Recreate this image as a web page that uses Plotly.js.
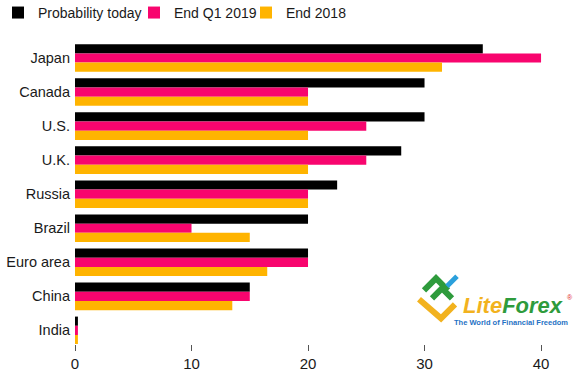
<!DOCTYPE html>
<html>
<head>
<meta charset="utf-8">
<script src="https://cdn.plot.ly/plotly-3.0.1.min.js"></script>
<style>html,body{margin:0;padding:0;background:#fff;}#chart{width:588px;height:383px;}</style>
</head>
<body>
<div id="chart"></div>
<script>
var countries = ["Japan", "Canada", "U.S.", "U.K.", "Russia", "Brazil", "Euro area", "China", "India"];
var probabilityToday = [35, 30, 30, 28, 22.5, 20, 20, 15, 0.25];
var endQ1_2019 = [40, 20, 25, 25, 20, 10, 20, 15, 0.25];
var end2018 = [31.5, 20, 20, 20, 20, 15, 16.5, 13.5, 0.25];
var seriesNames = ["Probability today", "End Q1 2019", "End 2018"];
var xTicks = [0, 10, 20, 30, 40];

var W = 588, H = 383, ML = 75, MR = 12, MT = 41, MB = 39.4;
function px(x) { return (x - ML) / (W - ML - MR); }
function py(y) { return (H - MB - y) / (H - MB - MT); }

var colors = ["#000000", "#f8056e", "#ffb400"];
var series = [probabilityToday, endQ1_2019, end2018];
var legendIds = ["legend", "legend2", "legend3"];
var data = series.map(function (vals, i) {
  return {
    type: "bar", orientation: "h", name: seriesNames[i], legend: legendIds[i],
    x: vals, y: countries, marker: {color: colors[i], line: {width: 0}},
    hoverinfo: "none"
  };
});

function pathStr(pts) {
  return pts.map(function (p, i) { return (i ? "L" : "M") + px(p[0]) + "," + py(p[1]); }).join(" ");
}
var shapes = [
  {type: "path", xref: "paper", yref: "paper", path: pathStr([[419,299],[441,318],[455,304]]), line: {color: "#f2b21e", width: 6}},
  {type: "path", xref: "paper", yref: "paper", path: pathStr([[424,290],[436,278],[448,290]]), line: {color: "#2e9b3c", width: 6}},
  {type: "path", xref: "paper", yref: "paper", path: pathStr([[432,298],[442,288],[452,298]]), line: {color: "#2e9b3c", width: 6}},
  {type: "path", xref: "paper", yref: "paper", path: pathStr([[447,286],[457,276]]), line: {color: "#2ba0dc", width: 5}}
];

var annotations = [
  {xref: "paper", yref: "paper", x: px(461), y: py(305), xanchor: "left", yanchor: "middle", showarrow: false,
   text: "<b><i><span style='color:#f2b21e'>Lite</span><span style='color:#2e9b3c'>Forex</span></i></b>",
   font: {family: "Liberation Sans, Arial, sans-serif", size: 22}},
  {xref: "paper", yref: "paper", x: px(565), y: py(297), xanchor: "left", yanchor: "middle", showarrow: false,
   text: "®", font: {family: "Liberation Sans, Arial, sans-serif", size: 7, color: "#e0262b"}},
  {xref: "paper", yref: "paper", x: px(452), y: py(322), xanchor: "left", yanchor: "middle", showarrow: false,
   text: "<b>The World of Financial Freedom</b>",
   font: {family: "Liberation Sans, Arial, sans-serif", size: 7.5, color: "#1f72c4"}}
];

function legendAt(leftPx) {
  return {orientation: "h", xref: "paper", yref: "paper", x: px(leftPx), y: py(-3), xanchor: "left", yanchor: "top",
          font: {family: "Liberation Sans, Arial, sans-serif", size: 14, color: "#1a1a1a"},
          itemwidth: 30, bgcolor: "rgba(0,0,0,0)", borderwidth: 0};
}

var layout = {
  width: W, height: H,
  margin: {l: ML, r: MR, t: MT, b: MB, pad: 0, autoexpand: false},
  paper_bgcolor: "#ffffff", plot_bgcolor: "#ffffff",
  barmode: "group", bargap: 0.19, bargroupgap: 0,
  font: {family: "Liberation Sans, Arial, sans-serif", size: 14, color: "#1a1a1a"},
  showlegend: true,
  legend: legendAt(-2),
  legend2: legendAt(134),
  legend3: legendAt(246),
  xaxis: {range: [0, 43], tickvals: xTicks, ticktext: xTicks.map(String), showgrid: false, zeroline: false,
          showline: false, ticks: "outside", ticklen: 6, tickwidth: 1, tickcolor: "#555555",
          tickfont: {size: 15, color: "#1a1a1a"}, fixedrange: true, automargin: false},
  yaxis: {type: "category", range: [8.4, -0.5], showgrid: false, zeroline: false, showline: false,
          ticks: "", tickfont: {size: 14.5, color: "#1a1a1a"}, ticklabelstandoff: 4, fixedrange: true, automargin: false},
  shapes: shapes,
  annotations: annotations
};

Plotly.newPlot("chart", data, layout, {staticPlot: true, displayModeBar: false});
</script>
</body>
</html>
